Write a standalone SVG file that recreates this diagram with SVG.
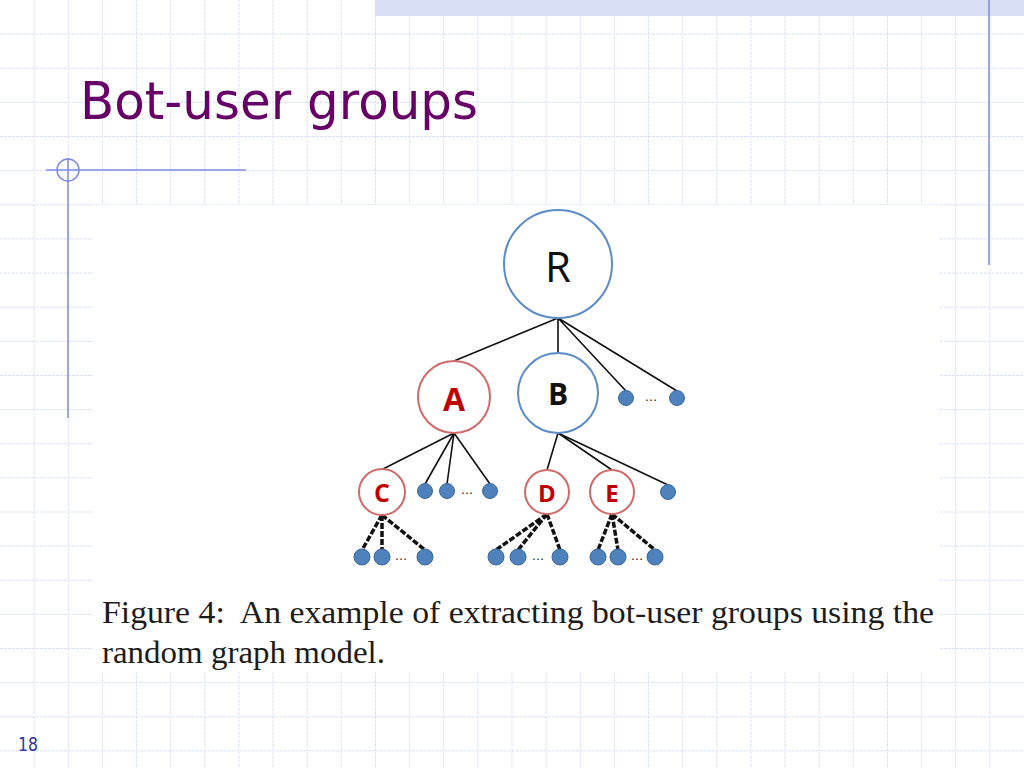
<svg xmlns="http://www.w3.org/2000/svg" width="1024" height="768" viewBox="0 0 1024 768">
<style>
.grid{stroke:#dde1f5;stroke-width:1;stroke-dasharray:3 1;fill:none}
.deco{stroke:#7d8ce0;stroke-width:1.5;fill:none}
.ring-b{fill:#fff;stroke:#5b8bc8;stroke-width:2}
.ring-r{fill:#fff;stroke:#d06a6a;stroke-width:2}
.dot{fill:#4f81bd;stroke:#3a679c;stroke-width:1}
.edge{stroke:#111;stroke-width:1.6;fill:none}
.dash{stroke:#111;stroke-width:3.5;stroke-dasharray:6 2;fill:none}
.lbl{font-family:"Open Sans","Liberation Sans",sans-serif;font-weight:bold;text-anchor:middle}
.ell{font-family:"Liberation Sans",sans-serif;font-size:13px;fill:#222;text-anchor:middle}
.cap{font-family:"Liberation Serif","Times New Roman",serif;font-size:32px;fill:#1c1c1c;white-space:pre}
</style>
<rect width="1024" height="768" fill="#fff"/>
<path class="grid" d="M34.13 0V768M68.27 0V768M102.4 0V768M136.53 0V768M170.67 0V768M204.8 0V768M238.93 0V768M273.07 0V768M307.2 0V768M341.33 0V768M375.47 0V768M409.6 0V768M443.73 0V768M477.87 0V768M512 0V768M546.13 0V768M580.27 0V768M614.4 0V768M648.53 0V768M682.67 0V768M716.8 0V768M750.93 0V768M785.07 0V768M819.2 0V768M853.33 0V768M887.47 0V768M921.6 0V768M955.73 0V768M989.87 0V768M0 34.13H1024M0 68.27H1024M0 102.4H1024M0 136.53H1024M0 170.67H1024M0 204.8H1024M0 238.93H1024M0 273.07H1024M0 307.2H1024M0 341.33H1024M0 375.47H1024M0 409.6H1024M0 443.73H1024M0 477.87H1024M0 512H1024M0 546.13H1024M0 580.27H1024M0 614.4H1024M0 648.53H1024M0 682.67H1024M0 716.8H1024M0 750.93H1024"/>
<rect x="375" y="0" width="649" height="16" fill="#d8dff7"/>
<line class="deco" x1="989" y1="0" x2="989" y2="265" stroke-width="2"/>
<line class="deco" x1="68" y1="158" x2="68" y2="418"/>
<line class="deco" x1="46" y1="170" x2="246" y2="170"/>
<circle class="deco" cx="68" cy="170" r="11"/>
<text x="80" y="119" font-family="DejaVu Sans,Verdana,sans-serif" font-size="51" fill="#660066" textLength="398" lengthAdjust="spacingAndGlyphs">Bot-user groups</text>
<text x="18" y="751" font-family="DejaVu Sans,Tahoma,sans-serif" font-size="19" fill="#333399" textLength="20" lengthAdjust="spacingAndGlyphs">18</text>
<rect x="93" y="205" width="847" height="467" fill="#fff"/>
<g id="connectors">
<path class="edge" d="M558 318L454 361M558 318L558 353M558 318L626 391M558 318L677 391"/>
<path class="edge" d="M454 433L383 469M454 433L425 484M454 433L447 484M454 433L490 484"/>
<path class="edge" d="M558 433L547 470M558 433L612 470M558 433L668 485"/>
<path class="dash" d="M382 515L362 550M382 515L382 550M382 515L425 550"/>
<path class="dash" d="M547 514L496 550M547 514L518 550M547 514L560 550"/>
<path class="dash" d="M612 514L598 550M612 514L618 550M612 514L655 550"/>
</g>
<g id="node-R"><circle class="ring-b" cx="558" cy="264" r="54"/><text x="558" y="282" font-family="Open Sans,Liberation Sans,sans-serif" font-size="42" text-anchor="middle" fill="#111">R</text></g>
<g id="node-A"><circle class="ring-r" cx="454" cy="397" r="36"/><text class="lbl" x="454" y="411" font-size="32" fill="#c00000">A</text></g>
<g id="node-B"><circle class="ring-b" cx="558" cy="393" r="40"/><text class="lbl" x="558" y="405" font-size="30" fill="#111">B</text></g>
<g id="node-R-leaves"><circle class="dot" cx="626" cy="398" r="7.5"/><text class="ell" x="651" y="401">…</text><circle class="dot" cx="677" cy="398" r="7.5"/></g>
<g id="node-C"><circle class="ring-r" cx="382" cy="492" r="23"/><text class="lbl" x="382" y="502" font-size="25" fill="#c00000">C</text></g>
<g id="node-A-leaves"><circle class="dot" cx="425" cy="491" r="7.5"/><circle class="dot" cx="447" cy="491" r="7.5"/><text class="ell" x="467" y="494">…</text><circle class="dot" cx="490" cy="491" r="7.5"/></g>
<g id="node-D"><circle class="ring-r" cx="547" cy="492" r="22"/><text class="lbl" x="547" y="502" font-size="24" fill="#c00000">D</text></g>
<g id="node-E"><circle class="ring-r" cx="612" cy="492" r="22"/><text class="lbl" x="612" y="502" font-size="24" fill="#c00000">E</text></g>
<g id="node-B-leaf"><circle class="dot" cx="668" cy="492" r="7.5"/></g>
<g id="node-C-leaves"><circle class="dot" cx="362" cy="557" r="8"/><circle class="dot" cx="382" cy="557" r="8"/><text class="ell" x="401" y="560">…</text><circle class="dot" cx="425" cy="557" r="8"/></g>
<g id="node-D-leaves"><circle class="dot" cx="496" cy="557" r="8"/><circle class="dot" cx="518" cy="557" r="8"/><text class="ell" x="538" y="560">…</text><circle class="dot" cx="560" cy="557" r="8"/></g>
<g id="node-E-leaves"><circle class="dot" cx="598" cy="557" r="8"/><circle class="dot" cx="618" cy="557" r="8"/><text class="ell" x="637" y="560">…</text><circle class="dot" cx="655" cy="557" r="8"/></g>
<text class="cap" x="102" y="623" textLength="832" lengthAdjust="spacingAndGlyphs">Figure 4:  An example of extracting bot-user groups using the</text>
<text class="cap" x="102" y="663" textLength="283" lengthAdjust="spacingAndGlyphs">random graph model.</text>
</svg>
